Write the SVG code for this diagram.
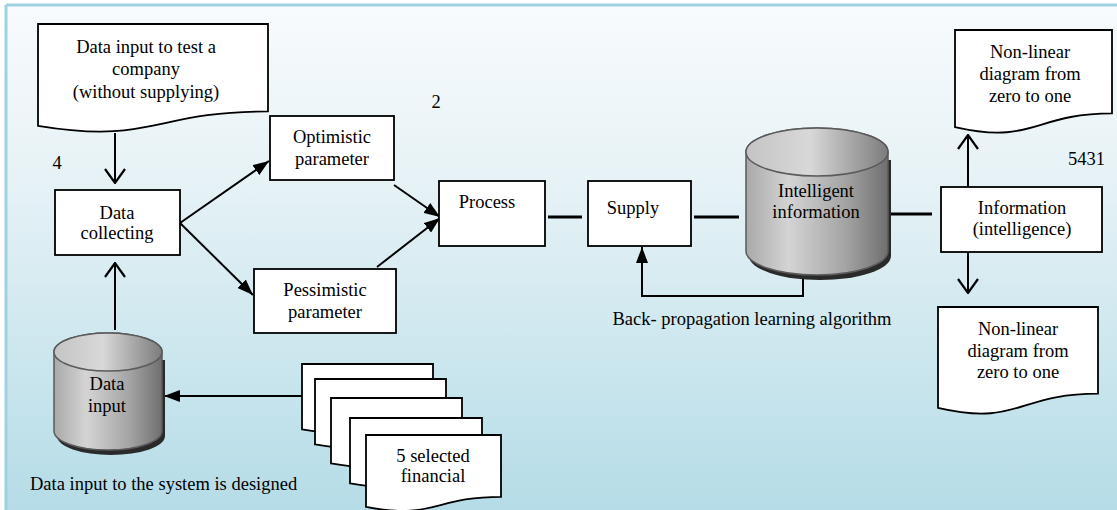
<svg xmlns="http://www.w3.org/2000/svg" width="1117" height="510" viewBox="0 0 1117 510">
<defs>
<linearGradient id="bg" x1="0" y1="0" x2="0" y2="1">
<stop offset="0" stop-color="#f8fbfd"/>
<stop offset="0.35" stop-color="#e6f2f6"/>
<stop offset="1" stop-color="#b5dce7"/>
</linearGradient>
<linearGradient id="can" x1="0" y1="0" x2="1" y2="0">
<stop offset="0" stop-color="#a9a9a9"/>
<stop offset="0.3" stop-color="#d4d4d4"/>
<stop offset="0.7" stop-color="#a4a4a4"/>
<stop offset="1" stop-color="#6f6f6f"/>
</linearGradient>
<linearGradient id="canTop" x1="0" y1="0" x2="1" y2="0">
<stop offset="0" stop-color="#c4c4c4"/>
<stop offset="0.45" stop-color="#d8d8d8"/>
<stop offset="1" stop-color="#7c7c7c"/>
</linearGradient>
<marker id="fill" viewBox="0 0 16 12" refX="16" refY="6" markerWidth="16" markerHeight="12" orient="auto" markerUnits="userSpaceOnUse">
<path d="M0,0 L16,6 L0,12 Z" fill="#000"/>
</marker>
<marker id="open" viewBox="0 0 16 22" refX="15" refY="11" markerWidth="16" markerHeight="22" orient="auto" markerUnits="userSpaceOnUse">
<path d="M1,1 L15,11 L1,21" fill="none" stroke="#000" stroke-width="2.2"/>
</marker>
<style>
.box{fill:#fff;stroke:#000;stroke-width:1.8}
.t{font-family:"Liberation Serif","Times New Roman",serif;font-size:18.5px;fill:#000;text-anchor:middle}
.ts{font-family:"Liberation Serif","Times New Roman",serif;font-size:18.5px;fill:#000}
.c{fill:none;stroke:#000;stroke-width:2}
.ct{fill:none;stroke:#000;stroke-width:3}
.canBody{fill:url(#can);stroke:#5a5a5a;stroke-width:1.5}
.canTop{fill:url(#canTop);stroke:#5a5a5a;stroke-width:1.5}
.shadow{fill:#2a2a2a}
</style>
</defs>
<rect x="0" y="0" width="1117" height="510" fill="#fff"/>
<rect x="6" y="5" width="1111" height="505" fill="url(#bg)"/>
<line x1="6" y1="5" x2="1117" y2="5" stroke="#9fd2e1" stroke-width="3"/>
<line x1="6" y1="5" x2="6" y2="510" stroke="#9fd2e1" stroke-width="3"/>

<g id="connectors">
<path class="c" d="M115,133 V183" marker-end="url(#open)"/>
<path class="c" d="M115,330 V263" marker-end="url(#open)"/>
<path class="c" d="M180,223 L269,161" marker-end="url(#fill)"/>
<path class="c" d="M180,223 L253,295" marker-end="url(#fill)"/>
<path class="c" d="M394,185 L440,217" marker-end="url(#fill)"/>
<path class="c" d="M377,267 L440,218" marker-end="url(#fill)"/>
<path class="ct" d="M548,217 H582"/>
<path class="ct" d="M694,217 H739"/>
<path class="ct" d="M888,214 H932"/>
<path class="c" d="M803,276 V296 H642 V247" marker-end="url(#fill)"/>
<path class="c" d="M302,396 H164" marker-end="url(#fill)"/>
<path class="c" d="M968,187 V135" marker-end="url(#open)"/>
<path class="c" d="M968,252 V293" marker-end="url(#open)"/>
</g>

<g id="doc-test-company">
<path class="box" d="M38,24 H268 V111.4 C153,111.4 153,144.7 38,125.8 Z"/>
<text class="t" x="146" y="53">Data input to test a</text>
<text class="t" x="146" y="75">company</text>
<text class="t" x="146" y="98">(without supplying)</text>
</g>

<g id="label-4"><text class="t" x="57" y="169">4</text></g>
<g id="label-2"><text class="t" x="436" y="108">2</text></g>
<g id="label-5431"><text class="ts" x="1105" y="165" text-anchor="end">5431</text></g>

<g id="data-collecting">
<rect class="box" x="55" y="190" width="125" height="65"/>
<text class="t" x="117" y="219">Data</text>
<text class="t" x="117" y="239">collecting</text>
</g>

<g id="data-input">
<path class="shadow" d="M57,360 V436 A54,19 0 0 0 165,436 V360 Z"/>
<path class="canBody" d="M54,352 V431 A54,19 0 0 0 162,431 V352 A54,19 0 0 0 54,352 Z"/>
<ellipse class="canTop" cx="108" cy="352" rx="54" ry="19"/>
<text class="t" x="107" y="390">Data</text>
<text class="t" x="107" y="412">input</text>
</g>

<g id="optimistic">
<rect class="box" x="270" y="116" width="124" height="64"/>
<text class="t" x="332" y="143">Optimistic</text>
<text class="t" x="332" y="165">parameter</text>
</g>

<g id="pessimistic">
<rect class="box" x="254" y="269" width="142" height="64"/>
<text class="t" x="325" y="296">Pessimistic</text>
<text class="t" x="325" y="318">parameter</text>
</g>

<g id="process">
<rect class="box" x="439" y="181" width="106" height="65"/>
<text class="t" x="487" y="208">Process</text>
</g>

<g id="supply">
<rect class="box" x="588" y="181" width="103" height="65"/>
<text class="t" x="633" y="214">Supply</text>
</g>

<g id="intelligent-information">
<path class="shadow" d="M749,160 V256 A71,24 0 0 0 891,256 V160 Z"/>
<path class="canBody" d="M746,152 V251 A71,24 0 0 0 888,251 V152 A71,24 0 0 0 746,152 Z"/>
<ellipse class="canTop" cx="817" cy="152" rx="71" ry="24"/>
<text class="t" x="816" y="197">Intelligent</text>
<text class="t" x="816" y="218">information</text>
</g>

<g id="backprop-label"><text class="t" x="752" y="325">Back- propagation learning algorithm</text></g>

<g id="information">
<rect class="box" x="941" y="187" width="161" height="65"/>
<text class="t" x="1022" y="214">Information</text>
<text class="t" x="1022" y="235">(intelligence)</text>
</g>

<g id="doc-nonlinear-top">
<path class="box" d="M955,30 H1112 V113.4 C1033.5,113.4 1033.5,145.1 955,127.1 Z"/>
<text class="t" x="1030" y="58">Non-linear</text>
<text class="t" x="1030" y="80">diagram from</text>
<text class="t" x="1030" y="102">zero to one</text>
</g>

<g id="doc-nonlinear-bottom">
<path class="box" d="M938,307 H1098 V393.6 C1018,393.6 1018,426.6 938,407.9 Z"/>
<text class="t" x="1018" y="335">Non-linear</text>
<text class="t" x="1018" y="357">diagram from</text>
<text class="t" x="1018" y="378">zero to one</text>
</g>

<g id="financial-docs">
<path class="box" d="M302,364 H433 V420.1 C367.5,420.1 367.5,441.5 302,429.4 Z"/>
<path class="box" d="M315,379 H446 V435.1 C380.5,435.1 380.5,456.5 315,444.4 Z"/>
<path class="box" d="M331,398 H462 V454.1 C396.5,454.1 396.5,475.5 331,463.4 Z"/>
<path class="box" d="M350,418 H482 V474.1 C416,474.1 416,495.5 350,483.4 Z"/>
<path class="box" d="M366,435 H501 V496.8 C433.5,496.8 433.5,520.2 366,506.9 Z"/>
<text class="t" x="433" y="462">5 selected</text>
<text class="t" x="433" y="482">financial</text>
</g>

<g id="caption"><text class="ts" x="30" y="490">Data input to the system is designed</text></g>
</svg>
